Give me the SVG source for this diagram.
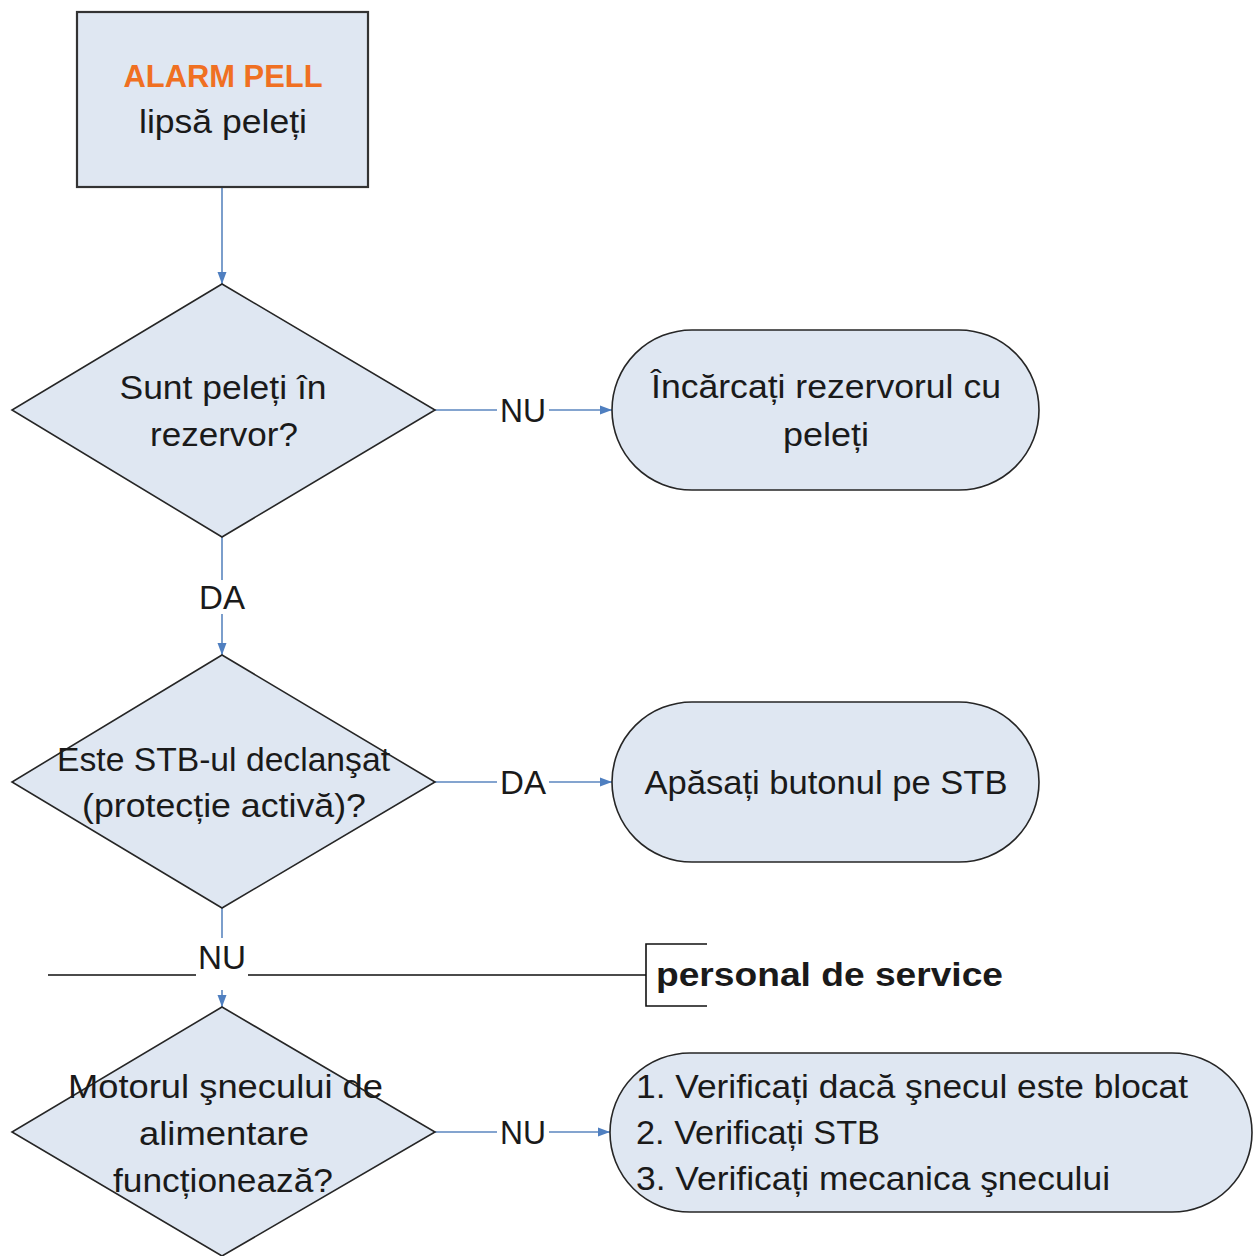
<svg xmlns="http://www.w3.org/2000/svg" width="1254" height="1256" viewBox="0 0 1254 1256">
<defs>
<style>
.shape{fill:#dfe7f2;stroke:#262626;stroke-width:1.6}
.box{fill:#dfe7f2;stroke:#333;stroke-width:2.2}
.t{font-family:"Liberation Sans",Arial,sans-serif;font-size:34px;fill:#1a1a1a;text-anchor:middle}
.l{text-anchor:start}
.b{font-weight:bold}
.conn{stroke:#5b86bf;stroke-width:1.6;fill:none}
.sep{stroke:#111;stroke-width:1.6;fill:none}
</style>
<marker id="arr" viewBox="0 0 12 10" refX="12" refY="5" markerWidth="12" markerHeight="10" markerUnits="userSpaceOnUse" orient="auto">
<path d="M0,0.5 L12,5 L0,9.5 Z" fill="#4f7fc0"/>
</marker>
</defs>
<rect width="1254" height="1256" fill="#ffffff"/>

<g id="connectors">
<path class="conn" d="M222,187 V284" marker-end="url(#arr)"/>
<path class="conn" d="M222,537 V580"/>
<path class="conn" d="M222,614 V655" marker-end="url(#arr)"/>
<path class="conn" d="M435,410 H497"/>
<path class="conn" d="M549,410 H612" marker-end="url(#arr)"/>
<path class="conn" d="M435,782 H497"/>
<path class="conn" d="M549,782 H612" marker-end="url(#arr)"/>
<path class="conn" d="M222,908 V938"/>
<path class="conn" d="M222,990 V1007" marker-end="url(#arr)"/>
<path class="conn" d="M435,1132 H497"/>
<path class="conn" d="M549,1132 H610" marker-end="url(#arr)"/>
<text class="t" x="523" y="422" textLength="46" lengthAdjust="spacingAndGlyphs">NU</text>
<text class="t" x="222" y="609" textLength="46" lengthAdjust="spacingAndGlyphs">DA</text>
<text class="t" x="523" y="794" textLength="46" lengthAdjust="spacingAndGlyphs">DA</text>
<text class="t" x="222" y="969" textLength="48" lengthAdjust="spacingAndGlyphs">NU</text>
<text class="t" x="523" y="1144" textLength="46" lengthAdjust="spacingAndGlyphs">NU</text>
</g>

<g id="service-separator">
<path class="sep" d="M48,975 H196 M248,975 H646"/>
<path class="sep" d="M707,944 H646 V1006 H707"/>
<text class="t l b" x="656" y="986" textLength="347" lengthAdjust="spacingAndGlyphs">personal de service</text>
</g>

<g id="start">
<rect class="box" x="77" y="12" width="291" height="175"/>
<text class="t b" x="223" y="87" style="fill:#f07022;font-size:31px" textLength="199" lengthAdjust="spacingAndGlyphs">ALARM PELL</text>
<text class="t" x="223" y="133" textLength="168" lengthAdjust="spacingAndGlyphs">lipsă peleți</text>
</g>

<g id="decision1">
<polygon class="shape" points="222,284 435,410 222,537 12,410"/>
<text class="t" x="223" y="399" textLength="207" lengthAdjust="spacingAndGlyphs">Sunt peleți în</text>
<text class="t" x="224" y="446" textLength="148" lengthAdjust="spacingAndGlyphs">rezervor?</text>
</g>

<g id="action1">
<rect class="shape" x="612" y="330" width="427" height="160" rx="80" ry="80"/>
<text class="t" x="826" y="398" textLength="350" lengthAdjust="spacingAndGlyphs">Încărcați rezervorul cu</text>
<text class="t" x="826" y="446" textLength="86" lengthAdjust="spacingAndGlyphs">peleți</text>
</g>

<g id="decision2">
<polygon class="shape" points="222,655 435,782 222,908 12,782"/>
<text class="t" x="223.5" y="771" textLength="333" lengthAdjust="spacingAndGlyphs">Este STB-ul declanşat</text>
<text class="t" x="224" y="817" textLength="284" lengthAdjust="spacingAndGlyphs">(protecție activă)?</text>
</g>

<g id="action2">
<rect class="shape" x="612" y="702" width="427" height="160" rx="80" ry="80"/>
<text class="t" x="826" y="794" textLength="363" lengthAdjust="spacingAndGlyphs">Apăsați butonul pe STB</text>
</g>

<g id="decision3">
<polygon class="shape" points="222,1007 435,1132 222,1256 12,1132"/>
<text class="t" x="225.5" y="1098" textLength="315" lengthAdjust="spacingAndGlyphs">Motorul şnecului de</text>
<text class="t" x="224" y="1145" textLength="170" lengthAdjust="spacingAndGlyphs">alimentare</text>
<text class="t" x="223" y="1192" textLength="220" lengthAdjust="spacingAndGlyphs">funcționează?</text>
</g>

<g id="action3">
<rect class="shape" x="610" y="1053" width="642" height="159" rx="80" ry="80"/>
<text class="t l" x="636" y="1098" textLength="552" lengthAdjust="spacingAndGlyphs">1. Verificați dacă şnecul este blocat</text>
<text class="t l" x="636" y="1144" textLength="244" lengthAdjust="spacingAndGlyphs">2. Verificați STB</text>
<text class="t l" x="636" y="1190" textLength="474" lengthAdjust="spacingAndGlyphs">3. Verificați mecanica şnecului</text>
</g>
</svg>
